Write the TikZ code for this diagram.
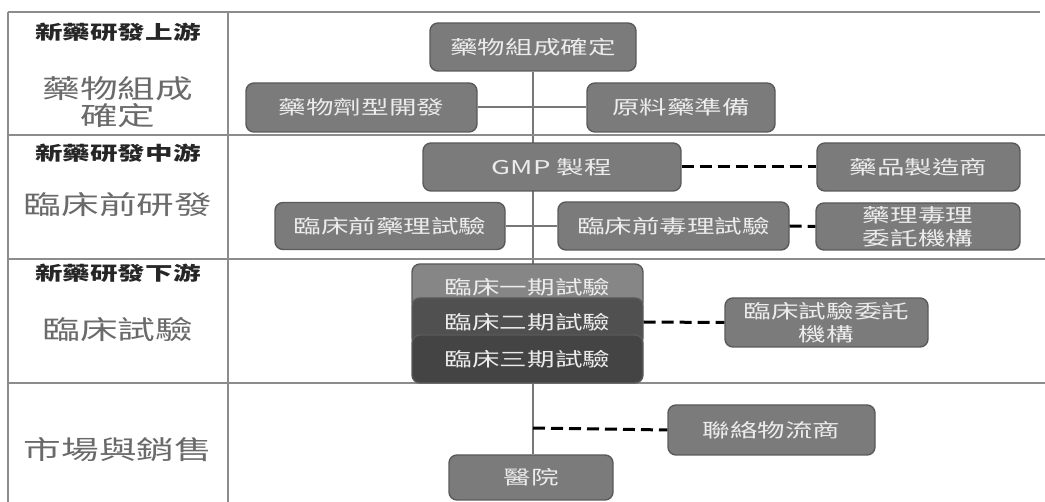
\documentclass[tikz,border=0pt]{standalone}
\usepackage{fontspec}
\usetikzlibrary{backgrounds}
\newfontfamily\cjk[FakeStretch=1.45]{Noto Sans CJK TC}
\definecolor{boxfill}{HTML}{7B7B7B}
\definecolor{boxline}{HTML}{5A5A5A}
\definecolor{boxtext}{HTML}{ECECEC}
\definecolor{tone}{HTML}{868686}
\definecolor{ttwo}{HTML}{505050}
\definecolor{tthree}{HTML}{444444}
\definecolor{gridc}{HTML}{8C8C8C}
\definecolor{bigtext}{HTML}{6A6A6A}
\definecolor{linkc}{HTML}{777777}
\definecolor{headc}{HTML}{262626}
\tikzset{
  box/.style={draw=boxline, fill=boxfill, rounded corners=8pt, line width=1.4pt,
    text=boxtext, font=\cjk\fontsize{19}{23}\selectfont, inner sep=0pt, align=center},
  grid/.style={draw=gridc, line width=1.3pt},
  link/.style={draw=linkc, line width=2pt},
  dashlink/.style={draw=black, line width=3pt, dash pattern=on 12pt off 6pt},
  head/.style={font=\cjk\bfseries\fontsize{19}{22}\selectfont, text=headc, inner sep=0pt},
  big/.style={font=\cjk\fontsize{26}{27}\selectfont, text=bigtext, inner sep=0pt, align=center}
}
\begin{document}
\begin{tikzpicture}[x=1pt, y=-1pt]
\useasboundingbox (0,0) rectangle (1045,502);
% table grid
\draw[grid] (8,12) -- (1040,12);
\draw[grid] (8,12) -- (8,502);
\draw[grid] (228,12) -- (228,502);
\draw[grid] (8,135) -- (1045,135);
\draw[grid] (8,259) -- (1045,259);
\draw[grid] (8,383) -- (1045,383);
% left column labels
\node[head] (h1) at (118,32) {新藥研發上游};
\node[big] (b1) at (118,102) {藥物組成\\確定};
\node[head] (h2) at (118,153) {新藥研發中游};
\node[big] (b2) at (118,205) {臨床前研發};
\node[head] (h3) at (118,273) {新藥研發下游};
\node[big] (b3) at (118,330) {臨床試驗};
\node[big] (b4) at (118,450) {市場與銷售};
% boxes
\node[box, minimum width=206pt, minimum height=48pt] (comp) at (533,47) {藥物組成確定};
\node[box, minimum width=231pt, minimum height=49pt] (dosage) at (361.5,107.5) {藥物劑型開發};
\node[box, minimum width=188pt, minimum height=49pt] (api) at (681,107.5) {原料藥準備};
\node[box, minimum width=258pt, minimum height=48pt] (gmp) at (552,167) {GMP 製程};
\node[box, minimum width=203pt, minimum height=48pt] (mfr) at (918.5,167) {藥品製造商};
\node[box, minimum width=230pt, minimum height=47pt] (pharm) at (390,226) {臨床前藥理試驗};
\node[box, minimum width=231pt, minimum height=48pt] (tox) at (673.5,226) {臨床前毒理試驗};
\node[box, minimum width=204pt, minimum height=47pt] (cro1) at (918,226.5) {藥理毒理\\委託機構};
\node[box, fill=tone, minimum width=231pt, minimum height=46pt] (t1) at (527.5,287) {臨床一期試驗};
\node[box, fill=ttwo, minimum width=231pt, minimum height=48pt] (t2) at (527.5,322) {臨床二期試驗};
\node[box, fill=tthree, minimum width=231pt, minimum height=48pt] (t3) at (527.5,359) {臨床三期試驗};
\node[box, minimum width=203pt, minimum height=49pt] (cro2) at (826.5,322.5) {臨床試驗委託\\機構};
\node[box, minimum width=207pt, minimum height=50pt] (logi) at (771.5,430) {聯絡物流商};
\node[box, minimum width=164pt, minimum height=45pt] (hosp) at (531,477.5) {醫院};
\coordinate (tap) at (533,428);
% connectors
\begin{pgfonlayer}{background}
\draw[link] (comp.south) -- (comp.south |- hosp.north);
\draw[link] (dosage.east) -- (api.west);
\draw[link] (pharm.east) -- (tox.west);
\end{pgfonlayer}
\draw[dashlink] (gmp.east) -- (mfr.west);
\draw[dashlink] (tox.east) -- (cro1.west);
\draw[dashlink] (t2.east) -- (cro2.west);
\draw[dashlink] (tap) -- (logi.west);
\end{tikzpicture}
\end{document}
